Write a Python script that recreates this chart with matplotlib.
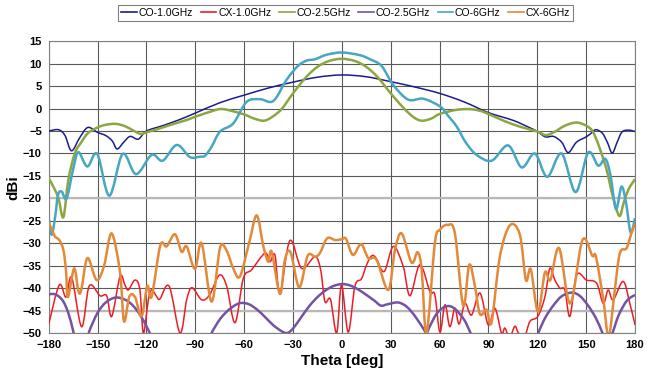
import numpy as np
import matplotlib
matplotlib.use("Agg")
import matplotlib.pyplot as plt
from matplotlib.path import Path
from matplotlib.patches import PathPatch
from matplotlib.lines import Line2D

plt.rcParams['font.family'] = ['Liberation Sans', 'DejaVu Sans']

# CO-1.0GHz
co10_t = [-180, -174, -170, -166, -161, -156, -150, -145, -141, -138, -134, -130, -125, -120, -110, -100,
          -90, -75, -60, -45, -30, -15, 0, 15, 30, 45, 60, 75, 90, 105, 115, 120, 125, 130, 135, 139, 144,
          150, 153, 156, 160, 163, 166, 169, 172, 176, 180]
co10_v = [-5.0, -4.7, -6.0, -9.4, -6.5, -4.2, -5.3, -6.0, -7.2, -9.0, -7.5, -6.2, -6.8, -5.0, -3.8, -2.5,
          -1.0, 1.3, 3.0, 4.6, 5.9, 7.0, 7.5, 7.1, 6.0, 4.8, 3.4, 1.5, -0.9, -2.6, -4.2, -5.1, -6.3, -6.2, -7.5,
          -9.8, -7.5, -6.3, -5.5, -4.7, -5.5, -7.5, -9.9, -7.5, -5.2, -4.8, -5.1]

# CX-1.0GHz
cx10_t = [-180, -173.5, -169.4, -165.9, -159.8, -155.1, -148.5, -144.4, -141.3, -136.2, -133.2, -131.1, -127,
          -124, -121.9, -118.8, -116.8, -113.7, -111.7, -106, -99.4, -95.3, -92, -86.1, -81.2, -75.2, -70.7,
          -65.6, -60.5, -55.4, -47.2, -44.1, -41.1, -38, -31.9, -24.7, -16.5, -13, -10.4, -7, -3.2, -0.2,
          3.9, 8, 12.1, 15.2, 18.3, 21, 26, 31.6, 37.7, 41.8, 47.9, 54.1, 57.1, 60.2, 63.3, 66.3, 69.4, 72,
          75.6, 79.6, 84.8, 89.9, 94, 98, 100.1, 103, 106.2, 108.3, 112, 115.5, 120.3, 124.7, 127.7, 130.8,
          133.9, 136.9, 140, 144.1, 150.2, 156.4, 160.5, 163.5, 166.6, 172.7, 176.8, 180]
cx10_v = [-48.0, -39.3, -42.0, -37.6, -48.6, -39.5, -41.7, -41.7, -46.3, -37.4, -39.3, -40.4, -38.2,
          -40.4, -50.0, -42.6, -40.4, -41.9, -42.4, -39.6, -50.0, -42.6, -39.9, -42.6, -41.5, -37.1, -39.6,
          -47.7, -37.8, -35.9, -32.2, -34.1, -32.6, -41.1, -29.4, -35.6, -33.0, -36.0, -43.0, -42.5, -50.0, -39.3,
          -49.8, -39.6, -37.9, -34.8, -32.8, -33.3, -36.3, -30.7, -35.2, -41.7, -34.8, -40.8, -41.5, -49.8, -43.7,
          -48.6, -44.5, -48.0, -43.4, -46.0, -41.1, -48.2, -44.5, -50.0, -48.9, -51.0, -48.5, -49.9, -51.0, -47.4,
          -46.3, -41.9, -35.6, -38.2, -40.0, -40.4, -46.3, -37.1, -38.2, -38.9, -43.4, -40.4, -42.6, -38.5,
          -43.4, -48.2]

# CO-2.5GHz
co25_t = [-180, -177, -174, -171, -168, -164, -160, -156, -150, -145, -139, -134, -130, -124, -120, -110,
          -105, -95, -90, -80, -75, -70, -60, -54, -48, -43, -37, -30, -22, -15, -8, 0, 8, 15, 22, 30, 38,
          44, 49, 55, 60, 70, 78, 85, 90, 100, 110, 120, 125, 130, 137, 144, 150, 154, 158, 162.6, 166,
          170.3, 173, 176, 180]
co25_v = [-15.5, -17.5, -20.0, -24.2, -16.0, -10.0, -7.5, -5.5, -4.2, -3.6, -3.4, -3.8, -4.5, -5.6, -5.3, -4.2,
          -3.6, -2.5, -1.8, -0.6, -0.1, -0.3, -1.3, -2.2, -2.7, -1.9, -0.1, 3.4, 7.0, 9.3, 10.6, 11.1, 10.6, 9.3,
          7.0, 3.4, 0.1, -1.9, -2.7, -2.2, -1.2, -0.3, -0.1, -0.5, -1.2, -2.8, -4.1, -5.1, -5.9, -5.3, -3.8, -3.1,
          -3.8, -5.1, -8.5, -13.7, -19.0, -23.9, -21.0, -18.0, -15.7]

# CX-2.5GHz (labelled CO-2.5GHz in the legend)
cx25_t = [-180, -177, -174, -171, -168, -165, -163, -157, -155, -150, -145, -139, -133, -128, -123, -118,
          -115, -82, -80, -75, -70, -65, -61.5, -57, -52, -47, -42, -37, -33.5, -30, -25, -20, -15, -10, -5,
          0, 5, 10, 15, 20, 24, 28, 34.6, 40, 45, 50, 52, 54, 58, 62, 66, 70, 75, 79, 81, 118, 120.6, 125,
          130, 135, 141, 146, 151, 156, 160, 162, 164, 166.2, 170, 175, 180]
cx25_v = [-41.4, -41.3, -41.8, -43.0, -45.5, -49.5, -53.0, -52.0, -49.5, -45.5, -43.2, -42.1, -42.6, -44.0,
          -46.5, -50.0, -53.0, -52.0, -50.0, -47.0, -45.0, -43.7, -43.3, -43.6, -44.8, -46.5, -48.3, -49.6,
          -50.0, -49.0, -46.5, -44.0, -42.0, -40.5, -39.5, -39.1, -39.4, -40.3, -41.5, -42.8, -43.9, -43.6,
          -43.2, -44.2, -46.3, -49.0, -50.0, -48.5, -45.8, -44.4, -44.0, -44.8, -47.0, -50.0, -52.0, -53.0,
          -50.0, -46.5, -43.8, -41.8, -41.0, -41.7, -43.8, -46.7, -50.0, -52.0, -52.0, -50.0, -46.0, -42.8, -41.5]

# CO-6GHz
co6_t = [-180, -178.2, -176, -174.3, -172, -169, -165, -161.8, -156.3, -150.2, -142.8, -134.6, -126.4,
         -116.8, -110, -101.4, -93.3, -87, -84, -80, -74.8, -66.7, -58.5, -50.3, -42.1, -34, -27, -21.6,
         -16.5, -9.4, 0, 11.1, 17.2, 24.4, 31.5, 40.7, 50, 60.2, 65, 70.5, 76, 82.7, 92, 102.1, 110.4,
         118.5, 126.1, 134.9, 143.5, 151.2, 157.4, 161.8, 165, 168.3, 171.7, 174.5, 177.3, 180]
co6_v = [-24.4, -28.1, -24.0, -19.2, -18.5, -20.0, -13.5, -9.7, -12.9, -10.1, -19.4, -10.1, -14.6, -10.3,
         -11.6, -8.1, -10.8, -10.7, -10.5, -8.5, -5.1, -3.3, 1.5, 2.1, 1.7, 6.4, 9.5, 10.7, 11.0, 12.0, 12.5,
         11.9, 11.0, 9.5, 5.3, 2.0, 2.2, 0.5, -1.5, -4.0, -7.5, -10.3, -11.6, -8.2, -13.1, -10.0, -15.2, -10.0,
         -18.6, -9.8, -12.7, -11.2, -15.0, -22.4, -17.4, -21.0, -27.6, -24.4]

# CX-6GHz
cx6_t = [-180, -176.5, -173.5, -171, -169.4, -168.2, -164.4, -161.8, -160, -156.2, -150.6, -146, -141.4,
         -136.2, -133.8, -130.5, -127, -123, -119.5, -116.8, -111.5, -107.6, -102.5, -98.4, -95.3, -90.2,
         -86.1, -80, -74.8, -70.7, -66.7, -62.6, -57, -52.3, -48.2, -45.2, -43.1, -38, -35, -31.5, -26.2,
         -21, -16.5, -13.5, -9, -4, 0, 2.5, 6.8, 11.8, 16.2, 21.3, 28.5, 32.6, 36.7, 42.8, 46.5, 49, 52,
         57.1, 60.2, 65, 69.4, 74.5, 78.2, 81.7, 84.8, 88.9, 91.9, 97, 103.2, 109.3, 113, 116, 120.4, 124.7,
         128, 133.4, 140.2, 147.7, 153.8, 156, 160.5, 163, 164.5, 167.6, 170.7, 174.8, 177.9, 180]
cx6_v = [-25.3, -28.3, -29.3, -31.5, -36.0, -42.0, -35.6, -40.6, -40.4, -33.3, -38.2, -35.0, -27.8, -36.5,
         -47.4, -41.9, -42.0, -46.3, -39.5, -41.9, -30.5, -30.7, -28.0, -31.9, -30.7, -35.7, -30.0, -43.0,
         -31.0, -31.7, -35.6, -37.4, -30.0, -23.8, -30.7, -34.1, -31.9, -41.3, -33.7, -32.0, -39.8, -32.8,
         -33.0, -32.2, -28.9, -29.3, -29.1, -29.0, -32.6, -30.2, -33.3, -33.7, -40.4, -31.5, -27.8, -34.3,
         -32.0, -35.9, -50.0, -30.0, -27.0, -25.9, -27.8, -43.9, -34.8, -39.6, -45.8, -44.8, -47.6, -33.0,
         -26.0, -28.1, -38.2, -35.8, -45.2, -36.5, -38.2, -31.1, -43.4, -29.3, -32.8, -33.0, -42.5, -50.0,
         -50.0, -40.4, -32.2, -31.1, -27.6, -25.7]

series = [
    ("CO-1.0GHz", co10_t, co10_v, "#1c1c8e", 1.1),
    ("CX-1.0GHz", cx10_t, cx10_v, "#ee1d25", 1.1),
    ("CO-2.5GHz", co25_t, co25_v, "#8ca640", 1.8),
    ("CO-2.5GHz", cx25_t, cx25_v, "#7353a3", 1.8),
    ("CO-6GHz", co6_t, co6_v, "#47a7c2", 1.8),
    ("CX-6GHz", cx6_t, cx6_v, "#e3893a", 1.8),
]


def smooth_path(t, v):
    # excel-like smoothed line: cubic bezier segments through every point
    p = np.column_stack([t, v]).astype(float)
    n = len(p)
    verts = [p[0]]
    codes = [Path.MOVETO]
    for i in range(n - 1):
        p0 = p[max(i - 1, 0)]
        p1 = p[i]
        p2 = p[i + 1]
        p3 = p[min(i + 2, n - 1)]
        c1 = p1 + (p2 - p0) / 6.0
        c2 = p2 - (p3 - p1) / 6.0
        verts += [c1, c2, p2]
        codes += [Path.CURVE4] * 3
    return Path(verts, codes)


fig = plt.figure(figsize=(6.61, 3.74), dpi=100)
ax = fig.add_axes([0.0737, 0.1096, 0.887, 0.78])

handles = []
for label, t, v, color, lw in series:
    patch = PathPatch(smooth_path(t, v), facecolor='none', edgecolor=color, lw=lw,
                      joinstyle='round', zorder=3)
    ax.add_patch(patch)
    handles.append(Line2D([], [], color=color, lw=1.2, label=label))

ax.set_xlim(-180, 180)
ax.set_ylim(-50, 15)
ax.set_xticks(np.arange(-180, 181, 30))
ax.set_yticks(np.arange(-50, 16, 5))
ax.grid(True, color='#5a5a5a', lw=0.8)
for yl in (-20, -45):
    ax.axhline(yl, color='#b8b8b8', lw=1.6, zorder=1.5)
ax.set_axisbelow(True)
for sp in ax.spines.values():
    sp.set_color('#808080')
ax.tick_params(length=0, labelsize=8, pad=5)
for lab in ax.get_xticklabels() + ax.get_yticklabels():
    lab.set_fontweight('bold')

ax.set_xlabel("Theta [deg]", fontsize=11, fontweight='bold', labelpad=3)
ax.set_ylabel("dBi", fontsize=11, fontweight='bold', labelpad=2)

leg = fig.legend(handles=handles, loc='center', bbox_to_anchor=(0.523, 0.966), ncol=6, fontsize=7.5,
                 frameon=True, fancybox=False, handlelength=1.5, handletextpad=0.15,
                 columnspacing=0.75, borderpad=0.3)
leg.get_frame().set_edgecolor('#606060')
leg.get_frame().set_linewidth(0.8)

fig.savefig("out.png", dpi=100)
